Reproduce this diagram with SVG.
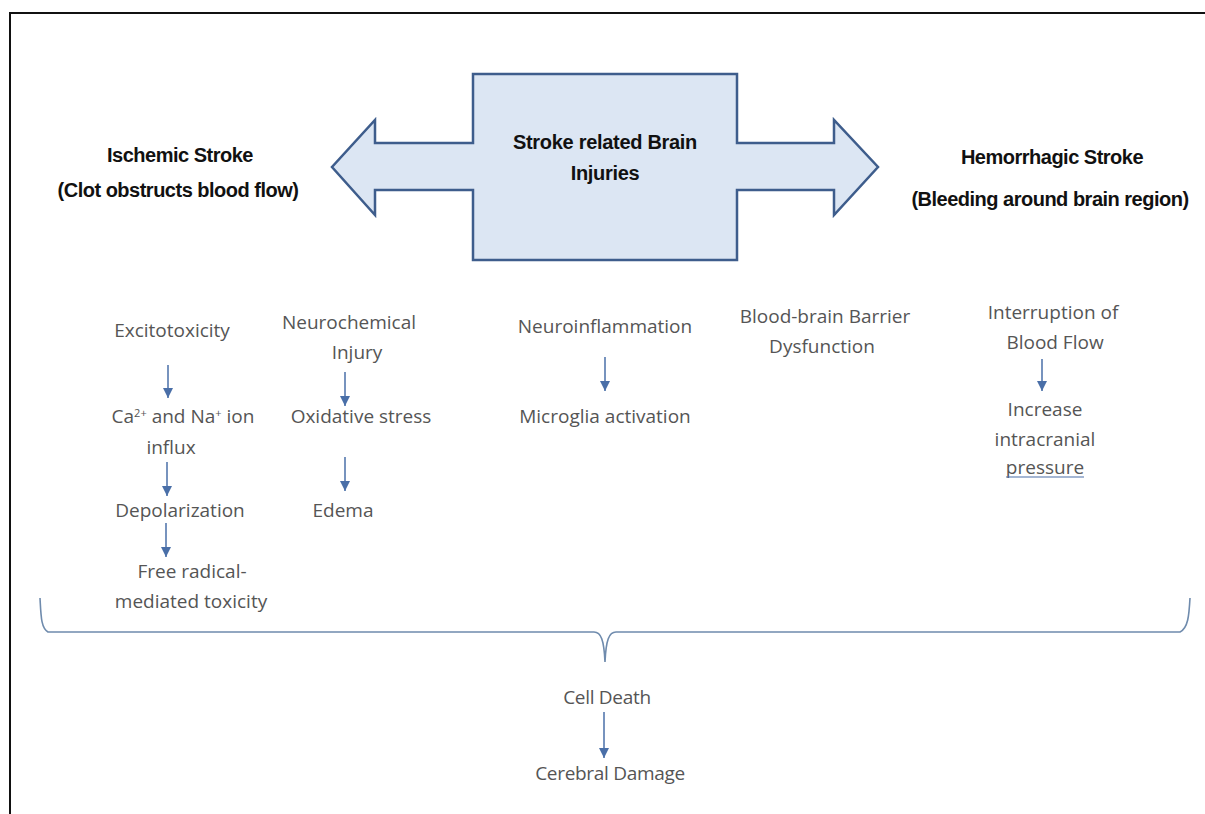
<svg xmlns="http://www.w3.org/2000/svg" width="1205" height="814" viewBox="0 0 1205 814">
  <defs>
    <marker id="head" viewBox="0 0 10 10" refX="10" refY="5" markerWidth="10" markerHeight="10" markerUnits="userSpaceOnUse" orient="auto">
      <path d="M0,0 L10,5 L0,10 Z" fill="#4a6fa8"/>
    </marker>
  </defs>
  <style>
    .title { font-family: "Liberation Sans", Arial, sans-serif; font-weight: bold; font-size: 20px; fill: #111; text-anchor: middle; letter-spacing: -0.5px; }
    .item { font-family: "Open Sans", "Liberation Sans", sans-serif; font-size: 19px; fill: #555; text-anchor: middle; }
    .flow { stroke: #4a6fa8; stroke-width: 1.5; fill: none; marker-end: url(#head); }
    .brace { stroke: #6f8bad; stroke-width: 1.6; fill: none; }
  </style>

  <rect x="0" y="0" width="1205" height="814" fill="#ffffff"/>
  <!-- outer frame -->
  <rect x="10" y="13" width="1210" height="820" fill="none" stroke="#111" stroke-width="2"/>

  <!-- central double arrow -->
  <g id="center">
    <path d="M473,74 L737,74 L737,143 L834,143 L834,120 L878,167 L834,215 L834,190 L737,190 L737,260 L473,260 L473,190 L375,190 L375,215 L332,167 L375,120 L375,143 L473,143 Z" fill="#dce6f3" stroke="#3e5d8c" stroke-width="2.5" stroke-linejoin="miter"/>
    <text class="title" x="605" y="149" style="letter-spacing:-0.3px">Stroke related Brain</text>
    <text class="title" x="605" y="180" style="letter-spacing:-0.3px">Injuries</text>
  </g>

  <g id="ischemic">
    <text class="title" x="180" y="162">Ischemic Stroke</text>
    <text class="title" x="178" y="197">(Clot obstructs blood flow)</text>
  </g>

  <g id="hemorrhagic">
    <text class="title" x="1052" y="164">Hemorrhagic Stroke</text>
    <text class="title" x="1050" y="206">(Bleeding around brain region)</text>
  </g>

  <g id="excitotoxicity">
    <text class="item" x="172" y="337">Excitotoxicity</text>
  </g>
  <g id="ion-influx">
    <text class="item" x="183" y="423">Ca<tspan dy="-6" font-size="11">2+</tspan><tspan dy="6"> and Na</tspan><tspan dy="-6" font-size="11">+</tspan><tspan dy="6"> ion</tspan></text>
    <text class="item" x="171" y="454">influx</text>
  </g>
  <g id="depolarization">
    <text class="item" x="180" y="517">Depolarization</text>
  </g>
  <g id="free-radical">
    <text class="item" x="192" y="578">Free radical-</text>
    <text class="item" x="191" y="608">mediated toxicity</text>
  </g>

  <g id="neurochemical">
    <text class="item" x="349" y="329">Neurochemical</text>
    <text class="item" x="357" y="359">Injury</text>
  </g>
  <g id="oxidative">
    <text class="item" x="361" y="423">Oxidative stress</text>
  </g>
  <g id="edema">
    <text class="item" x="343" y="517">Edema</text>
  </g>

  <g id="neuroinflammation">
    <text class="item" x="605" y="333">Neuroinflammation</text>
  </g>
  <g id="microglia">
    <text class="item" x="605" y="423">Microglia activation</text>
  </g>

  <g id="bbb">
    <text class="item" x="825" y="323">Blood-brain Barrier</text>
    <text class="item" x="822" y="353">Dysfunction</text>
  </g>

  <g id="interruption">
    <text class="item" x="1053" y="319">Interruption of</text>
    <text class="item" x="1055" y="349">Blood Flow</text>
  </g>
  <g id="intracranial">
    <text class="item" x="1045" y="416">Increase</text>
    <text class="item" x="1045" y="446">intracranial</text>
    <text class="item" x="1045" y="474">pressure</text>
    <line x1="1006" y1="477" x2="1084" y2="477" stroke="#4a6fa8" stroke-width="1.2"/>
  </g>

  <g id="cell-death">
    <text class="item" x="607" y="704" style="letter-spacing:-0.3px">Cell Death</text>
  </g>
  <g id="cerebral-damage">
    <text class="item" x="610" y="780" style="letter-spacing:-0.3px">Cerebral Damage</text>
  </g>

  <g id="connectors">
    <line class="flow" x1="168" y1="365" x2="168" y2="398"/>
    <line class="flow" x1="167" y1="462" x2="167" y2="496"/>
    <line class="flow" x1="166" y1="523" x2="166" y2="557"/>
    <line class="flow" x1="345" y1="372" x2="345" y2="406"/>
    <line class="flow" x1="345" y1="457" x2="345" y2="491"/>
    <line class="flow" x1="605" y1="357" x2="605" y2="391"/>
    <line class="flow" x1="1042" y1="359" x2="1042" y2="391"/>
    <line class="flow" x1="604" y1="712" x2="604" y2="758"/>
    <!-- brace gathering all pathways -->
    <path class="brace" d="M40,598 C41,616 41,628 48,632 L594,632 C601,632 604,640 605,662 C606,640 609,632 616,632 L1180,632 C1188,628 1189,616 1190,598"/>
  </g>
</svg>
